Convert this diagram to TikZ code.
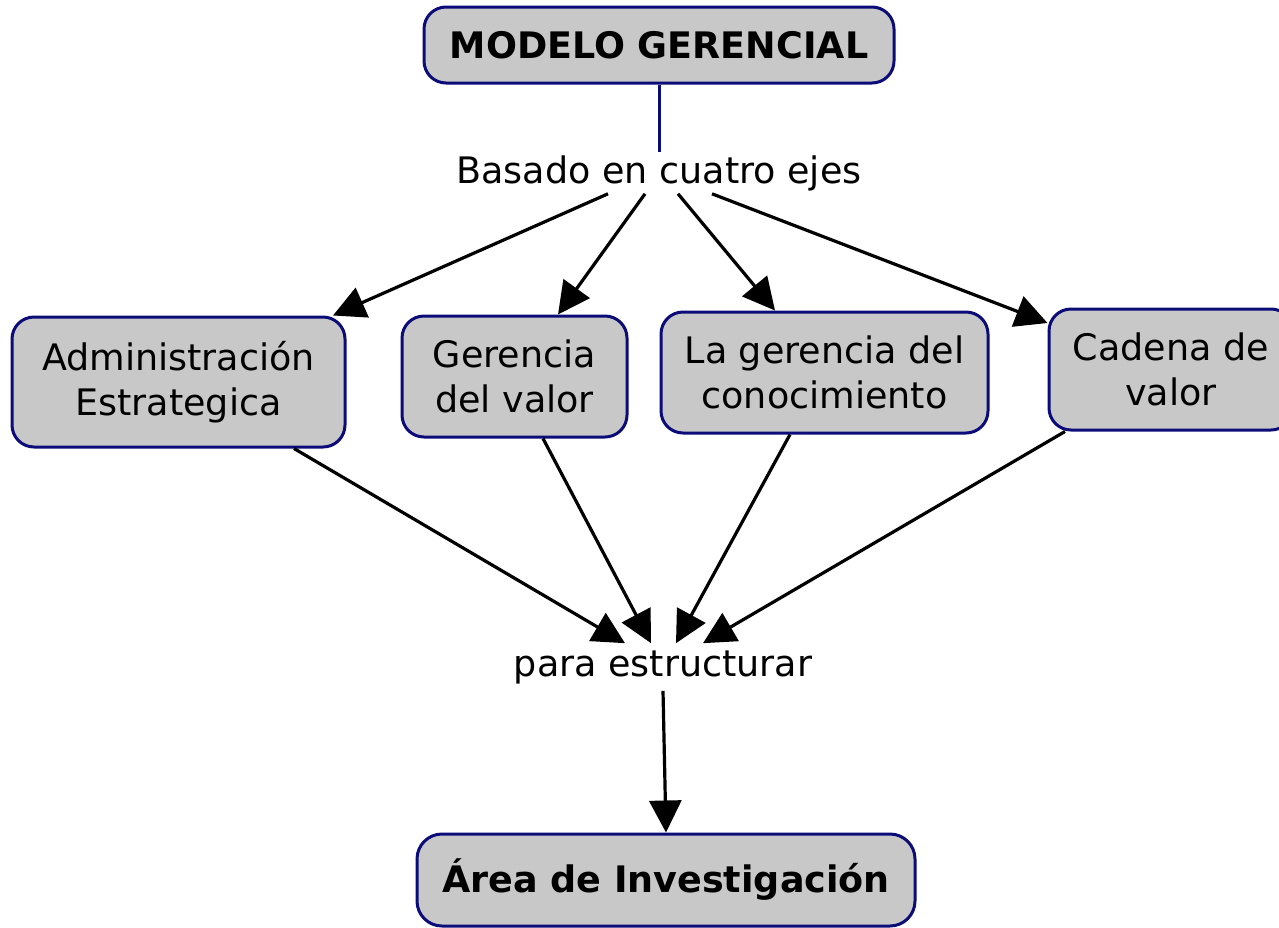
\documentclass[tikz,border=0pt]{standalone}
\usepackage{fontspec}
\setmainfont{DejaVu Sans}
\usetikzlibrary{arrows.meta}
\definecolor{boxfill}{RGB}{200,200,200}
\definecolor{boxline}{RGB}{12,12,120}
\begin{document}
\begin{tikzpicture}[x=1pt,y=-1pt,
  conceptbox/.style={draw=boxline, fill=boxfill, line width=3pt, rounded corners=22pt, align=center, inner sep=0pt, font=\fontsize{36.5}{45}\selectfont},
  boldbox/.style={conceptbox, font=\fontsize{36.5}{45}\selectfont\bfseries},
  linklabel/.style={inner xsep=0pt, font=\fontsize{36.5}{45}\selectfont, anchor=base},
  arr/.style={line width=3.2pt, -{Triangle[length=32pt,width=32pt]}},
  plainline/.style={line width=3pt, draw=boxline}
]
\useasboundingbox (0,0) rectangle (1279,927);

\node[boldbox, minimum width=470pt, minimum height=76pt] (model) at (659,45) {MODELO GERENCIAL};
\node[linklabel, inner ysep=3pt] (basado) at (659,183) {Basado en cuatro ejes};
\node[conceptbox, minimum width=333pt, minimum height=130pt] (adm) at (178.5,382) {Administración\\Estrategica};
\node[conceptbox, minimum width=225pt, minimum height=121pt] (ger) at (514.5,376.5) {Gerencia\\del valor};
\node[conceptbox, minimum width=327pt, minimum height=121pt] (con) at (824.5,372.5) {La gerencia del\\conocimiento};
\node[conceptbox, minimum width=244pt, minimum height=121pt] (cad) at (1171,369.5) {Cadena de\\valor};
\node[linklabel, inner ysep=7pt] (para) at (663,676) {para estructurar};
\node[boldbox, minimum width=498pt, minimum height=92pt, rounded corners=25pt] (area) at (666,880) {Área de Investigación};

\draw[plainline] (model) -- (basado);

\draw[arr] (basado.south -| 608,0) -- (adm.north -| 333,0);
\draw[arr] (basado.south -| 645,0) -- (ger.north -| 558,0);
\draw[arr] (basado.south -| 678,0) -- (con.north -| 775,0);
\draw[arr] (basado.south -| 712,0) -- (cad.west |- 0,323);

\draw[arr] (adm.south -| 294,0) -- (para.north -| 625,0);
\draw[arr] (ger.south -| 543,0) -- (para.north -| 651,0);
\draw[arr] (con.south -| 790,0) -- (para.north -| 676,0);
\draw[arr] (cad.south -| 1065,0) -- (para.north -| 703,0);

\draw[arr] (para.south) -- (area.north);
\end{tikzpicture}
\end{document}
